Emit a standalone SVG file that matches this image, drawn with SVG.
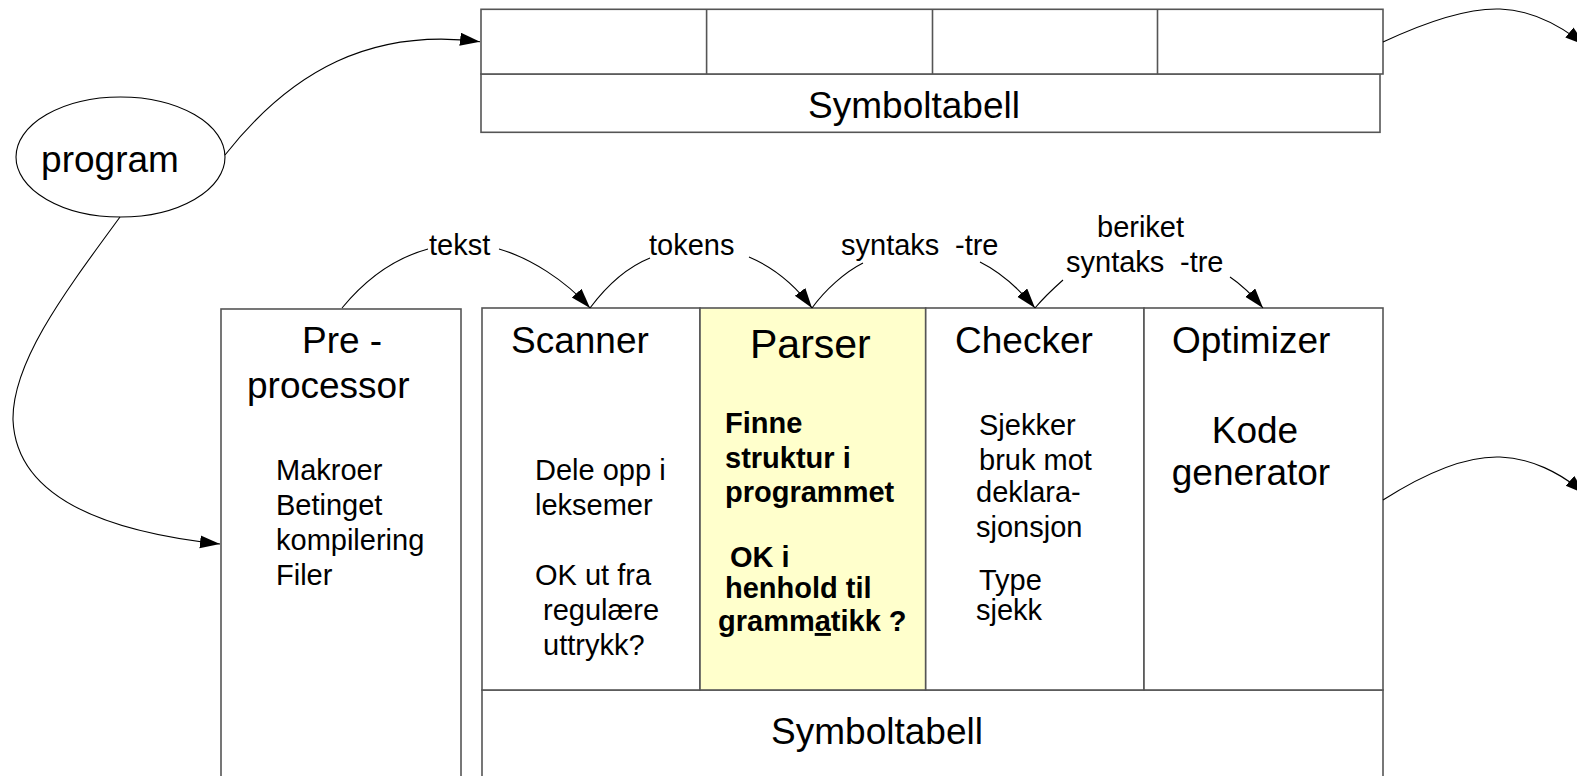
<svg xmlns="http://www.w3.org/2000/svg" width="1577" height="776" viewBox="0 0 1577 776">
<style>
text{font-family:"Liberation Sans",Arial,sans-serif;fill:#000}
.box{fill:#fff;stroke:#555;stroke-width:1.6}
.par{fill:#ffffcc;stroke:#555;stroke-width:1.6}
.big{font-size:37px}
.sm{font-size:29px}
.b{font-size:29px;font-weight:bold}
.c{fill:none;stroke:#000;stroke-width:1.1}
.mid{text-anchor:middle}
</style>
<defs>
<marker id="ah" markerUnits="userSpaceOnUse" markerWidth="22" markerHeight="14" refX="20" refY="6.5" orient="auto">
<path d="M0,0 L20,6.5 L0,13 z" fill="#000"/>
</marker>
</defs>
<g id="symtab-top">
<rect class="box" x="481" y="74" width="899" height="58.3"/>
<rect class="box" x="481" y="9.3" width="902" height="64.7"/>
<line class="box" x1="706.6" y1="9.3" x2="706.6" y2="74"/>
<line class="box" x1="932.5" y1="9.3" x2="932.5" y2="74"/>
<line class="box" x1="1157.5" y1="9.3" x2="1157.5" y2="74"/>
<text class="big mid" x="914" y="118">Symboltabell</text>
</g>
<g id="program">
<ellipse cx="120.5" cy="157" rx="104.5" ry="60" fill="#fff" stroke="#000" stroke-width="1.1"/>
<text class="big mid" x="110" y="172">program</text>
</g>
<g id="preprocessor">
<rect class="box" x="221" y="309" width="240" height="480"/>
<text class="big" x="302" y="353">Pre -</text>
<text class="big" x="247" y="398">processor</text>
<text class="sm" x="276" y="480">Makroer</text>
<text class="sm" x="276" y="515">Betinget</text>
<text class="sm" x="276" y="550">kompilering</text>
<text class="sm" x="276" y="585">Filer</text>
</g>
<g id="symtab-bottom">
<rect class="box" x="482" y="690" width="901" height="100"/>
<text class="big mid" x="877" y="744">Symboltabell</text>
</g>
<g id="scanner">
<rect class="box" x="482" y="308" width="218" height="382"/>
<text class="big" x="511" y="353">Scanner</text>
<text class="sm" x="535" y="480">Dele opp i</text>
<text class="sm" x="535" y="515">leksemer</text>
<text class="sm" x="535" y="585">OK ut fra</text>
<text class="sm" x="543" y="620">regulære</text>
<text class="sm" x="543" y="655">uttrykk?</text>
</g>
<g id="parser">
<rect class="par" x="700" y="308" width="225.7" height="382"/>
<text x="750" y="358" style="font-size:41px">Parser</text>
<text class="b" x="725" y="433">Finne</text>
<text class="b" x="725" y="468">struktur i</text>
<text class="b" x="725" y="502">programmet</text>
<text class="b" x="730" y="567">OK i</text>
<text class="b" x="725" y="598">henhold til</text>
<text class="b" x="718" y="631">gramm<tspan text-decoration="underline">a</tspan>tikk ?</text>
</g>
<g id="checker">
<rect class="box" x="925.7" y="308" width="218.3" height="382"/>
<text class="big" x="955" y="353">Checker</text>
<text class="sm" x="979" y="435">Sjekker</text>
<text class="sm" x="979" y="470">bruk mot</text>
<text class="sm" x="976" y="502">deklara-</text>
<text class="sm" x="976" y="537">sjonsjon</text>
<text class="sm" x="979" y="590">Type</text>
<text class="sm" x="976" y="620">sjekk</text>
</g>
<g id="optimizer">
<rect class="box" x="1144" y="308" width="239" height="382"/>
<text class="big" x="1172" y="353">Optimizer</text>
<text class="big mid" x="1255" y="443">Kode</text>
<text class="big mid" x="1251" y="485">generator</text>
</g>
<g id="labels">
<text class="sm" x="429" y="255">tekst</text>
<text class="sm" x="649" y="255">tokens</text>
<text class="sm" x="841" y="255">syntaks</text>
<text class="sm" x="955" y="255">-tre</text>
<text class="sm" x="1097" y="237">beriket</text>
<text class="sm" x="1066" y="272">syntaks</text>
<text class="sm" x="1180" y="272">-tre</text>
</g>
<g id="connectors">
<path class="c" d="M225,155 C292,70 372,28 480,41.7" marker-end="url(#ah)"/>
<path class="c" d="M120,217 C65,292 12,362 13,420 C16,490 90,530 220,544" marker-end="url(#ah)"/>
<path class="c" d="M1383,42 C1430,20 1470,8 1500,9 C1530,10 1560,25 1585,45" marker-end="url(#ah)"/>
<path class="c" d="M1383,500 C1430,470 1470,456 1500,457 C1530,458 1560,472 1585,494" marker-end="url(#ah)"/>
<path class="c" d="M342,308 C365,280 395,258 428,249"/>
<path class="c" d="M499,249 C530,258 565,280 590,308" marker-end="url(#ah)"/>
<path class="c" d="M590,308 C605,288 625,268 650,258"/>
<path class="c" d="M749,257 C775,268 795,285 812,308" marker-end="url(#ah)"/>
<path class="c" d="M812,308 C825,290 845,272 863,263"/>
<path class="c" d="M980,262 C1000,272 1020,290 1035,308" marker-end="url(#ah)"/>
<path class="c" d="M1035,308 C1045,296 1054,288 1063,280"/>
<path class="c" d="M1230,277 C1242,285 1253,296 1263,308" marker-end="url(#ah)"/>
</g>
</svg>
